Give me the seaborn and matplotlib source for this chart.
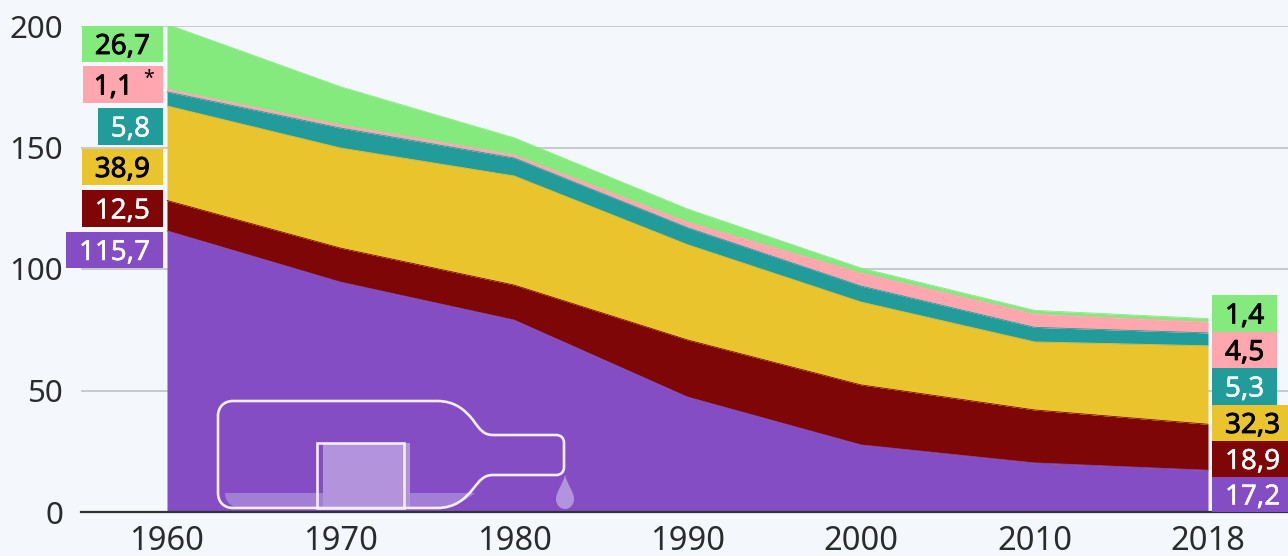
import matplotlib
matplotlib.use('Agg')
import numpy as np
import pandas as pd
import matplotlib.pyplot as plt
import matplotlib.patheffects as pe
import seaborn as sns
from matplotlib.patches import PathPatch, Rectangle
from matplotlib.path import Path
from matplotlib.transforms import Affine2D

# values, bottom layer first
years = ['1960', '1970', '1980', '1990', '2000', '2010', '2018']
purple = [115.7, 94.6, 79.0, 47.3, 27.6, 20.2, 17.2]
red = [12.5, 14.0, 14.4, 23.5, 24.7, 21.8, 18.9]
yellow = [38.9, 41.2, 44.9, 39.2, 34.1, 28.0, 32.3]
teal = [5.8, 8.2, 7.4, 7.0, 6.6, 6.0, 5.3]
pink = [1.1, 1.3, 1.3, 2.3, 5.4, 5.5, 4.5]
green = [26.7, 15.7, 7.0, 5.4, 2.0, 1.5, 1.4]

layers = [purple, red, yellow, teal, pink, green]
colors = ['#844DC4', '#7E0606', '#EAC42C', '#229C9B', '#FFA6AE', '#84EA7E']
labels_first = ['115,7', '12,5', '38,9', '5,8', '1,1', '26,7']
labels_last = ['17,2', '18,9', '32,3', '5,3', '4,5', '1,4']
text_colors = ['white', 'white', 'black', 'white', 'black', 'black']

BG = '#F4F8FC'
W, H = 1288, 556

sns.set_theme(style='white')
plt.rcParams['font.family'] = ['Noto Sans', 'DejaVu Sans']

df = pd.DataFrame(layers, index=colors, columns=years).T
tops = df.cumsum(axis=1)

fig = plt.figure(figsize=(W / 100, H / 100), dpi=100, facecolor=BG)
ax = fig.add_axes([81 / W, (H - 512) / H, (W - 81) / W, 486 / H], facecolor=BG)

# stacked areas, the boundaries come from seaborn
xpos = np.arange(len(years))
bottom = np.zeros(len(years))
for c in colors:
    sns.lineplot(x=xpos, y=tops[c].values, color=c, linewidth=0.6, ax=ax, zorder=3)
    ax.fill_between(xpos, bottom, tops[c].values, color=c, linewidth=0, zorder=2)
    bottom = tops[c].values

step = 173.5
ax.set_xlim((81 - 167) / step, (W - 167) / step)
ax.set_ylim(0, 200)
ax.set_xticks(xpos, years)
ax.set_yticks([0, 50, 100, 150, 200])
ax.grid(axis='y', color='#C6CACD', linewidth=1.4, zorder=1)
ax.grid(axis='x', visible=False)
ax.tick_params(axis='x', length=0, pad=9, labelsize=23.5, labelcolor='#2b2b2b')
ax.tick_params(axis='y', length=0, pad=13, labelsize=22.5, labelcolor='#2b2b2b')
sns.despine(ax=ax, left=True, top=True, right=True)
ax.spines['bottom'].set_color('#333333')
ax.spines['bottom'].set_linewidth(1.6)
ax.spines['bottom'].set_zorder(6)

# pixel coordinates, origin top left
px = Affine2D().scale(1, -1).translate(0, H)

# value boxes at both ends (left, top, right, bottom, text anchor x)
left_boxes = [(66, 232, 163, 268, 150), (82, 190, 163, 227, 150), (82, 149, 163, 185, 150),
              (98, 108, 163, 145, 150), (83, 66, 163, 103, 133), (82, 26, 163, 62, 150)]
right_boxes = [(1212, 477, W, 512, 1225), (1212, 441, W, 477, 1225), (1212, 405, W, 441, 1225),
               (1212, 368, 1277, 405, 1225), (1212, 332, 1277, 368, 1225), (1212, 295, 1277, 332, 1225)]

for i, c in enumerate(colors):
    for box, lab, ha in [(left_boxes[i], labels_first[i], 'right'), (right_boxes[i], labels_last[i], 'left')]:
        x0, y0, x1, y1, tx = box
        fig.add_artist(Rectangle((x0, y0), x1 - x0, y1 - y0, color=c, linewidth=0, transform=px, zorder=5))
        t = fig.text(tx, (y0 + y1) / 2 - 0.5, lab, color=text_colors[i], fontsize=20, ha=ha, va='center_baseline',
                     transform=px, zorder=7)
        # fake the semi bold weight of the labels
        sw = 0.6 if text_colors[i] == 'black' else 0.3
        t.set_path_effects([pe.withStroke(linewidth=sw, foreground=text_colors[i])])
fig.text(149, 79, '*', color='black', fontsize=14, ha='center', va='center', transform=px, zorder=7)

# bottle decoration
liquid = Path([(225, 493), (475, 493), (465, 501), (452, 508), (437, 508), (240, 508), (230, 508), (225, 500), (225, 493), (225, 493)],
              [1, 2, 4, 4, 4, 2, 4, 4, 4, 79])
fig.add_artist(PathPatch(liquid, color='#A27FD5', linewidth=0, transform=px, zorder=8))
fig.add_artist(Rectangle((323, 443), 87, 65, color='#B393DC', linewidth=0, transform=px, zorder=8))

M, L, C = Path.MOVETO, Path.LINETO, Path.CURVE4
bottle = [(M, (233, 401)), (L, (437, 401)),
          (C, (455, 401)), (C, (465, 410)), (C, (473, 420)),
          (C, (480, 430)), (C, (484, 435)), (C, (493, 435)),
          (L, (556, 435)),
          (C, (561, 435)), (C, (564, 438)), (C, (564, 443)),
          (L, (564, 467)),
          (C, (564, 472)), (C, (561, 475)), (C, (556, 475)),
          (L, (493, 475)),
          (C, (484, 475)), (C, (480, 480)), (C, (473, 489)),
          (C, (465, 499)), (C, (455, 508)), (C, (437, 508)),
          (L, (233, 508)),
          (C, (224, 508)), (C, (218, 502)), (C, (218, 493)),
          (L, (218, 416)),
          (C, (218, 407)), (C, (224, 401)), (C, (233, 401))]
fig.add_artist(PathPatch(Path([v for _, v in bottle], [k for k, _ in bottle]), facecolor='none', edgecolor='#F3EEFA',
                         linewidth=1.9, transform=px, zorder=9))
fig.add_artist(Rectangle((317, 443), 87, 65, facecolor='none', edgecolor='#F3EEFA', linewidth=1.9, transform=px, zorder=9))

# drop under the neck
drop = [(M, (565, 475)), (C, (568, 486)), (C, (574, 492)), (C, (574, 499)), (C, (574, 505)), (C, (570, 509)), (C, (565, 509)),
        (C, (560, 509)), (C, (556, 505)), (C, (556, 499)), (C, (556, 492)), (C, (562, 486)), (C, (565, 475))]
fig.add_artist(PathPatch(Path([v for _, v in drop], [k for k, _ in drop]), color='#B393DC', linewidth=0, transform=px, zorder=8))

fig.savefig('out.png', dpi=100, facecolor=BG)
